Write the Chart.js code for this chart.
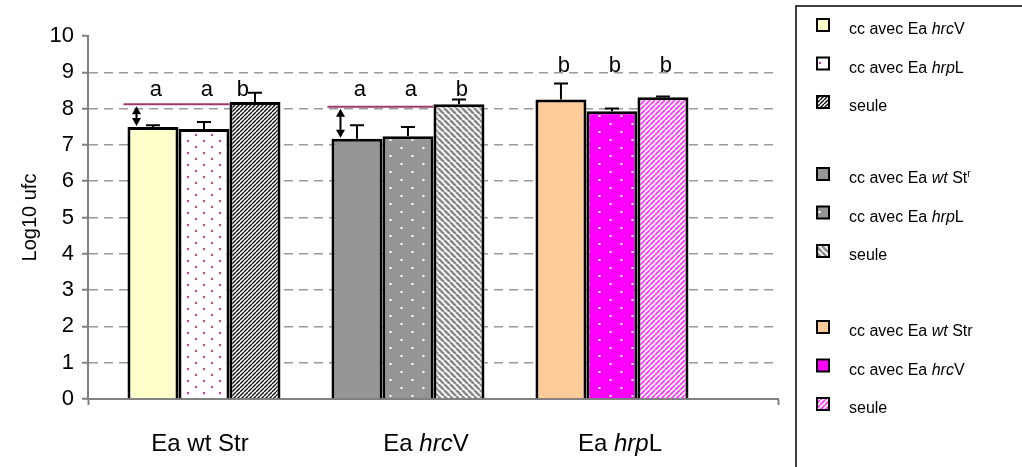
<!DOCTYPE html>
<html>
<head>
<meta charset="utf-8">
<script src="https://cdn.jsdelivr.net/npm/chart.js@4"></script>
<style>
  html, body { margin: 0; padding: 0; background: #fff; }
</style>
</head>
<body>
<canvas id="chart" width="1022" height="467"></canvas>
<script>
// _x_ = italic, ^x = superscript
const categories = ['Ea wt Str', 'Ea _hrc_V', 'Ea _hrp_L'];
const meanLeft = [7.49, 7.17, 8.25];
const meanMiddle = [7.44, 7.24, 7.93];
const meanRight = [8.18, 8.12, 8.31];
const errLeft = [0.05, 0.37, 0.44];
const errMiddle = [0.19, 0.25, 0.07];
const errRight = [0.26, 0.13, 0.02];
const letterLeft = ['a', 'a', 'b'];
const letterMiddle = ['a', 'a', 'b'];
const letterRight = ['b', 'b', 'b'];
const letterLevel = [8.35, 8.35, 9.0];
const refLevel = [8.12, 8.05, null];
const legendLeft = ['cc avec Ea _hrc_V', 'cc avec Ea _wt_ St^r', 'cc avec Ea _wt_ Str'];
const legendMiddle = ['cc avec Ea _hrp_L', 'cc avec Ea _hrp_L', 'cc avec Ea _hrc_V'];
const legendRight = ['seule', 'seule', 'seule'];
const yTicks = { min: 0, max: 10, step: 1 };

const FONT = "'Liberation Sans', Arial, sans-serif";
Chart.defaults.font.family = FONT;

const means = [meanLeft, meanMiddle, meanRight];
const errs = [errLeft, errMiddle, errRight];
const letters = [letterLeft, letterMiddle, letterRight];
const legendText = [legendLeft, legendMiddle, legendRight];

function dots(bg, fg, w, h, r) {
    const c = document.createElement('canvas');
    c.width = w; c.height = h;
    const g = c.getContext('2d');
    g.fillStyle = bg; g.fillRect(0, 0, w, h);
    g.fillStyle = fg;
    g.fillRect(w / 4 - r, h / 4 - r, 2 * r, 2 * r);
    g.fillRect(3 * w / 4 - r, 3 * h / 4 - r, 2 * r, 2 * r);
    return g.createPattern(c, 'repeat');
}

function hatch(bg, fg, s, lw, dir) {
    const c = document.createElement('canvas');
    c.width = s; c.height = s;
    const g = c.getContext('2d');
    g.fillStyle = bg; g.fillRect(0, 0, s, s);
    g.strokeStyle = fg; g.lineWidth = lw;
    g.beginPath();
    for (let k = -1; k <= 1; k++) {
        if (dir === '/') { g.moveTo(k * s, s); g.lineTo(k * s + s, 0); }
        else { g.moveTo(k * s, 0); g.lineTo(k * s + s, s); }
    }
    g.stroke();
    return g.createPattern(c, 'repeat');
}

const fills = [
    ['#FFFFCC', '#969696', '#FFCC99'],
    [dots('#ffffff', '#b4508c', 16, 12, 1.1), dots('#969696', '#ffffff', 22, 16, 1), dots('#FF00FF', '#ffffff', 22, 16, 1)],
    [hatch('#ffffff', '#111111', 4, 1.4, '/'), hatch('#ffffff', '#8a8a8a', 6, 2.6, '\\'), hatch('#ffffff', '#ff33ff', 5, 1.8, '/')]
];

function parseRich(str) {
    const segs = [];
    let italic = false, buf = '';
    const flush = () => { if (buf) segs.push({ t: buf, it: italic, sup: false }); buf = ''; };
    for (let k = 0; k < str.length; k++) {
        const ch = str[k];
        if (ch === '_') { flush(); italic = !italic; }
        else if (ch === '^') { flush(); segs.push({ t: str[++k], it: italic, sup: true }); }
        else buf += ch;
    }
    flush();
    return segs;
}

function drawRich(ctx, str, x, y, size, align) {
    const segs = parseRich(str);
    const fontOf = s => (s.it ? 'italic ' : '') + (s.sup ? Math.round(size * 0.62) : size) + 'px ' + FONT;
    let w = 0;
    segs.forEach(s => { ctx.font = fontOf(s); s.w = ctx.measureText(s.t).width; w += s.w; });
    let cx = align === 'center' ? x - w / 2 : x;
    ctx.textAlign = 'left';
    ctx.textBaseline = 'alphabetic';
    segs.forEach(s => {
        ctx.font = fontOf(s);
        ctx.fillText(s.t, cx, s.sup ? y - size * 0.38 : y);
        cx += s.w;
    });
}

const overlay = {
    id: 'overlay',
    afterDatasetsDraw(chart) {
        const ctx = chart.ctx;
        const y = chart.scales.y;
        ctx.save();

        // error bars (upper half only)
        ctx.strokeStyle = '#000';
        ctx.lineWidth = 2;
        for (let d = 0; d < 3; d++) {
            chart.getDatasetMeta(d).data.forEach((bar, i) => {
                const top = y.getPixelForValue(means[d][i] + errs[d][i]);
                ctx.beginPath();
                ctx.moveTo(bar.x, bar.y);
                ctx.lineTo(bar.x, top);
                ctx.moveTo(bar.x - 7, top);
                ctx.lineTo(bar.x + 7, top);
                ctx.stroke();
            });
        }

        // reference lines and double arrows
        refLevel.forEach((lvl, i) => {
            if (lvl == null) return;
            const b0 = chart.getDatasetMeta(0).data[i];
            const b1 = chart.getDatasetMeta(1).data[i];
            const ly = y.getPixelForValue(lvl);
            ctx.strokeStyle = '#9c3a6c';
            ctx.lineWidth = 2;
            ctx.beginPath();
            ctx.moveTo(b0.x - b0.width / 2 - 4, ly);
            ctx.lineTo(b1.x + b1.width / 2, ly);
            ctx.stroke();

            const ax = b0.x - b0.width / 2 + 9;
            const y1 = ly + 2, y2 = b0.y - 1;
            ctx.strokeStyle = '#000';
            ctx.fillStyle = '#000';
            ctx.beginPath();
            ctx.moveTo(ax, y1 + 6);
            ctx.lineTo(ax, y2 - 6);
            ctx.stroke();
            ctx.beginPath();
            ctx.moveTo(ax, y1); ctx.lineTo(ax - 4.5, y1 + 8); ctx.lineTo(ax + 4.5, y1 + 8); ctx.closePath();
            ctx.moveTo(ax, y2); ctx.lineTo(ax - 4.5, y2 - 8); ctx.lineTo(ax + 4.5, y2 - 8); ctx.closePath();
            ctx.fill();
        });

        // significance letters, moved aside when an error bar reaches them
        ctx.fillStyle = '#000';
        ctx.font = '22px ' + FONT;
        ctx.textAlign = 'center';
        ctx.textBaseline = 'alphabetic';
        for (let d = 0; d < 3; d++) {
            chart.getDatasetMeta(d).data.forEach((bar, i) => {
                const base = y.getPixelForValue(letterLevel[i]);
                const errTop = y.getPixelForValue(means[d][i] + errs[d][i]);
                const lx = errTop < base ? bar.x - 12 : bar.x + 3;
                ctx.fillText(letters[d][i], lx, base);
            });
        }
        ctx.restore();
    },
    afterDraw(chart) {
        const ctx = chart.ctx;
        const x = chart.scales.x;
        ctx.save();
        ctx.fillStyle = '#000';

        // category labels (slightly shifted as in the original layout)
        const labelShift = [-4, 18, 8];
        categories.forEach((c, i) => {
            drawRich(ctx, c, x.getPixelForValue(i + 0.5) + labelShift[i], 451, 24, 'center');
        });

        // legend box
        ctx.strokeStyle = '#000';
        ctx.lineWidth = 1.5;
        ctx.beginPath();
        ctx.moveTo(796, 480);
        ctx.lineTo(796, 6);
        ctx.lineTo(1030, 6);
        ctx.stroke();

        const groupTop = [29, 178, 331];
        for (let i = 0; i < 3; i++) {
            for (let d = 0; d < 3; d++) {
                const cy = groupTop[i] + d * 38.5;
                ctx.fillStyle = fills[d][i];
                ctx.fillRect(817, cy - 10, 12, 12);
                ctx.strokeStyle = '#000';
                ctx.lineWidth = 2;
                ctx.strokeRect(817, cy - 10, 12, 12);
                ctx.fillStyle = '#000';
                drawRich(ctx, legendText[d][i], 849, cy + 5, 16, 'left');
            }
        }
        ctx.restore();
    }
};

new Chart(document.getElementById('chart'), {
    type: 'bar',
    data: {
        datasets: [0, 1, 2].map(d => ({
            label: 'serie ' + (d + 1),
            data: means[d].map((v, i) => ({ x: i + 0.5, y: v })),
            backgroundColor: fills[d],
            borderColor: '#000',
            borderWidth: 3,
            categoryPercentage: 0.75,
            barPercentage: 1.0
        }))
    },
    options: {
        responsive: false,
        animation: false,
        devicePixelRatio: 1,
        layout: { padding: { top: 36, right: 244, left: 0, bottom: 0 } },
        plugins: { legend: { display: false }, tooltip: { enabled: false } },
        scales: {
            x: {
                type: 'linear',
                min: -0.0686,
                max: 3.314,
                offset: false,
                grid: { offset: false, drawOnChartArea: false, tickLength: 6, tickColor: '#808080', tickWidth: 2 },
                border: { color: '#808080', width: 2 },
                ticks: { callback: () => '', padding: 0 },
                afterBuildTicks: s => { s.ticks = [{ value: s.min }, { value: s.max }]; },
                afterFit: s => { s.height = 68; }
            },
            y: {
                min: yTicks.min,
                max: yTicks.max,
                ticks: { stepSize: yTicks.step, color: '#000', font: { size: 22 }, padding: 8 },
                grid: {
                    color: c => (c.tick.value === yTicks.min || c.tick.value === yTicks.max) ? 'rgba(0,0,0,0)' : '#9a9a9a',
                    lineWidth: 1.5,
                    tickLength: 6,
                    tickColor: '#808080',
                    tickWidth: 2
                },
                border: { color: '#808080', width: 2, dash: [9, 6] },
                title: { display: true, text: 'Log10 ufc', color: '#000', font: { size: 20 }, padding: { top: 18, bottom: 0 } },
                afterFit: s => { s.width = 88; }
            }
        }
    },
    plugins: [overlay]
});
</script>
</body>
</html>
